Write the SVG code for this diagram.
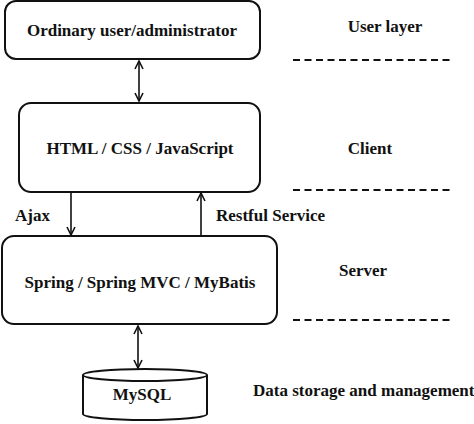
<svg xmlns="http://www.w3.org/2000/svg" width="474" height="424" viewBox="0 0 474 424">
<defs>
<style>
text{font-family:"Liberation Serif","Times New Roman",serif;font-weight:bold;font-size:17px;fill:#111}
.box{fill:#fff;stroke:#111;stroke-width:2}
.line{stroke:#111;stroke-width:1.6;fill:none}
.dash{stroke:#111;stroke-width:2;stroke-dasharray:7 4.5;fill:none}
</style>
<marker id="ah" viewBox="0 0 10 10" refX="9" refY="5" markerWidth="10" markerHeight="10" markerUnits="userSpaceOnUse" orient="auto-start-reverse">
<path d="M1,1 L9,5 L1,9" fill="none" stroke="#111" stroke-width="1.6"/>
</marker>
</defs>
<rect width="474" height="424" fill="#fff"/>
<g id="user">
<rect class="box" x="5" y="1" width="255" height="58" rx="11"/>
<text x="132" y="36" text-anchor="middle">Ordinary user/administrator</text>
</g>
<g id="client">
<rect class="box" x="19" y="103" width="241" height="89" rx="12"/>
<text x="140" y="154" text-anchor="middle">HTML / CSS / JavaScript</text>
</g>
<g id="server">
<rect class="box" x="2" y="236" width="275" height="88" rx="12"/>
<text x="140" y="288" text-anchor="middle">Spring / Spring MVC / MyBatis</text>
</g>
<g id="mysql">
<path class="box" d="M83,375 L83,414 A62,6 0 0 0 207,414 L207,375"/>
<ellipse class="box" cx="145" cy="375" rx="62" ry="6"/>
<text x="142" y="400" text-anchor="middle">MySQL</text>
</g>
<g id="connectors">
<line class="line" x1="139" y1="61" x2="139" y2="101" marker-start="url(#ah)" marker-end="url(#ah)"/>
<line class="line" x1="71" y1="193" x2="71" y2="235" marker-end="url(#ah)"/>
<line class="line" x1="201" y1="235" x2="201" y2="193" marker-end="url(#ah)"/>
<line class="line" x1="138" y1="326" x2="138" y2="368" marker-start="url(#ah)" marker-end="url(#ah)"/>
<text x="15" y="221">Ajax</text>
<text x="216" y="221">Restful Service</text>
</g>
<g id="layers">
<text x="385" y="32" text-anchor="middle">User layer</text>
<line class="dash" x1="293" y1="60" x2="453" y2="60"/>
<text x="370" y="154" text-anchor="middle">Client</text>
<line class="dash" x1="293" y1="190" x2="453" y2="190"/>
<text x="363" y="276" text-anchor="middle">Server</text>
<line class="dash" x1="293" y1="320" x2="453" y2="320"/>
<text x="253" y="396">Data storage and management</text>
</g>
</svg>
